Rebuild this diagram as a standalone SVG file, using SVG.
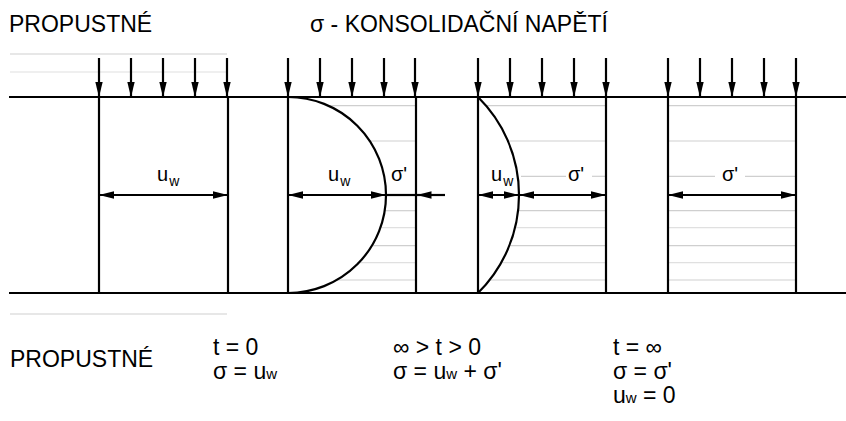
<svg xmlns="http://www.w3.org/2000/svg" width="846" height="421" viewBox="0 0 846 421">
<style>
text{font-family:"Liberation Sans",Arial,sans-serif;fill:#000}
.big{font-size:23px}
.lbl{font-size:20px}
.sub{font-size:14px}
.bsub{font-size:15px}
.k{stroke:#000;stroke-width:2.2;fill:none}
.g{stroke:#cfcfcf;stroke-width:1.2;fill:none}
.g2{stroke:#e0e0e0;stroke-width:1.2;fill:none}
.ar{stroke:#000;stroke-width:2.2;fill:none;marker-end:url(#ah)}
.dim{stroke:#000;stroke-width:2.2;fill:none;marker-start:url(#ah);marker-end:url(#ah)}
</style>
<defs>
<marker id="ah" viewBox="0 0 15 8" refX="15" refY="4" markerWidth="15" markerHeight="8" markerUnits="userSpaceOnUse" orient="auto-start-reverse">
<path d="M0,0.3 L15,4 L0,7.7 z" fill="#000"/>
</marker>
</defs>
<rect width="846" height="421" fill="#fff"/>

<g id="background-lines">
<line class="g" x1="10" y1="54" x2="227" y2="54"/>
<line class="g2" x1="10" y1="72" x2="227" y2="72"/>
<line class="g" x1="10" y1="314" x2="227" y2="314"/>
</g>

<g id="ground">
<line class="k" x1="9" y1="97" x2="846" y2="97"/>
<line class="k" x1="9" y1="293" x2="846" y2="293"/>
</g>

<g id="column-t0">
<line class="k" x1="99" y1="97" x2="99" y2="293"/>
<line class="k" x1="228" y1="97" x2="228" y2="293"/>
<text class="lbl" x="157" y="181">u<tspan class="sub" dx="1" dy="5">w</tspan></text>
</g>

<g id="column-tmid1">
<line class="g" x1="330" y1="105.7" x2="416" y2="105.7"/>
<line class="g" x1="368" y1="141" x2="416" y2="141"/>
<line class="g" x1="385" y1="210.7" x2="416" y2="210.7"/>
<line class="g2" x1="380" y1="227.7" x2="416" y2="227.7"/>
<line class="g" x1="371" y1="245.7" x2="416" y2="245.7"/>
<line class="g2" x1="357" y1="262.7" x2="416" y2="262.7"/>
<line class="g" x1="336" y1="280" x2="416" y2="280"/>
<line class="k" x1="288" y1="97" x2="288" y2="293"/>
<line class="k" x1="416" y1="97" x2="416" y2="293"/>
<path class="k" d="M288,97 A98,98 0 0 1 288,293"/>
<text class="lbl" x="328" y="181">u<tspan class="sub" dx="1" dy="5">w</tspan></text>
<text class="lbl" x="391" y="181">σ'</text>
</g>

<g id="column-tmid2">
<line class="g" x1="487" y1="105.7" x2="606" y2="105.7"/>
<line class="g" x1="509" y1="141" x2="606" y2="141"/>
<line class="g" x1="521" y1="176.3" x2="566" y2="176.3"/>
<line class="g" x1="592" y1="176.3" x2="606" y2="176.3"/>
<line class="g" x1="519" y1="210.7" x2="606" y2="210.7"/>
<line class="g2" x1="516" y1="227.7" x2="606" y2="227.7"/>
<line class="g" x1="510" y1="245.7" x2="606" y2="245.7"/>
<line class="g2" x1="502" y1="262.7" x2="606" y2="262.7"/>
<line class="g" x1="490" y1="280" x2="606" y2="280"/>
<line class="k" x1="478" y1="97" x2="478" y2="293"/>
<line class="k" x1="606" y1="97" x2="606" y2="293"/>
<path class="k" d="M478,97 A137.6,137.6 0 0 1 478,293"/>
<text class="lbl" x="491" y="181">u<tspan class="sub" dx="1" dy="5">w</tspan></text>
<text class="lbl" x="568" y="181">σ'</text>
</g>

<g id="column-tinf">
<line class="g" x1="669" y1="105.7" x2="795" y2="105.7"/>
<line class="g" x1="669" y1="141" x2="795" y2="141"/>
<line class="g" x1="669" y1="176.3" x2="715" y2="176.3"/>
<line class="g" x1="745" y1="176.3" x2="795" y2="176.3"/>
<line class="g" x1="669" y1="210.7" x2="795" y2="210.7"/>
<line class="g2" x1="669" y1="227.7" x2="795" y2="227.7"/>
<line class="g" x1="669" y1="245.7" x2="795" y2="245.7"/>
<line class="g2" x1="669" y1="262.7" x2="795" y2="262.7"/>
<line class="g" x1="669" y1="280" x2="795" y2="280"/>
<line class="k" x1="668" y1="97" x2="668" y2="293"/>
<line class="k" x1="796" y1="97" x2="796" y2="293"/>
<text class="lbl" x="722" y="181">σ'</text>
</g>

<g id="connectors">
<line class="ar" x1="99" y1="58" x2="99" y2="97"/>
<line class="ar" x1="131" y1="58" x2="131" y2="97"/>
<line class="ar" x1="163" y1="58" x2="163" y2="97"/>
<line class="ar" x1="195" y1="58" x2="195" y2="97"/>
<line class="ar" x1="227" y1="58" x2="227" y2="97"/>
<line class="ar" x1="288" y1="58" x2="288" y2="97"/>
<line class="ar" x1="320" y1="58" x2="320" y2="97"/>
<line class="ar" x1="352" y1="58" x2="352" y2="97"/>
<line class="ar" x1="384" y1="58" x2="384" y2="97"/>
<line class="ar" x1="415" y1="58" x2="415" y2="97"/>
<line class="ar" x1="478" y1="58" x2="478" y2="97"/>
<line class="ar" x1="510" y1="58" x2="510" y2="97"/>
<line class="ar" x1="542" y1="58" x2="542" y2="97"/>
<line class="ar" x1="574" y1="58" x2="574" y2="97"/>
<line class="ar" x1="606" y1="58" x2="606" y2="97"/>
<line class="ar" x1="668" y1="58" x2="668" y2="97"/>
<line class="ar" x1="700" y1="58" x2="700" y2="97"/>
<line class="ar" x1="732" y1="58" x2="732" y2="97"/>
<line class="ar" x1="764" y1="58" x2="764" y2="97"/>
<line class="ar" x1="796" y1="58" x2="796" y2="97"/>
<line class="dim" x1="99" y1="195" x2="228" y2="195"/>
<line class="dim" x1="288" y1="195" x2="386" y2="195"/>
<line class="k" x1="386" y1="195" x2="416" y2="195"/>
<line class="ar" x1="445" y1="195" x2="416.5" y2="195"/>
<line class="dim" x1="478" y1="195" x2="519" y2="195"/>
<line class="dim" x1="519" y1="195" x2="606" y2="195"/>
<line class="dim" x1="668" y1="195" x2="796" y2="195"/>
</g>

<g id="titles">
<text class="big" x="9" y="32">PROPUSTNÉ</text>
<text class="big" x="310" y="32">σ - KONSOLIDAČNÍ NAPĚTÍ</text>
<text class="big" x="10" y="367">PROPUSTNÉ</text>
</g>

<g id="equations">
<text class="big" x="213" y="355">t = 0</text>
<text class="big" x="213" y="379">σ = u<tspan class="bsub">w</tspan></text>
<text class="big" x="393" y="355">∞ &gt; t &gt; 0</text>
<text class="big" x="393" y="379">σ = u<tspan class="bsub">w</tspan> + σ'</text>
<text class="big" x="613" y="355">t = ∞</text>
<text class="big" x="613" y="379">σ = σ'</text>
<text class="big" x="613" y="403">u<tspan class="bsub">w</tspan> = 0</text>
</g>
</svg>
